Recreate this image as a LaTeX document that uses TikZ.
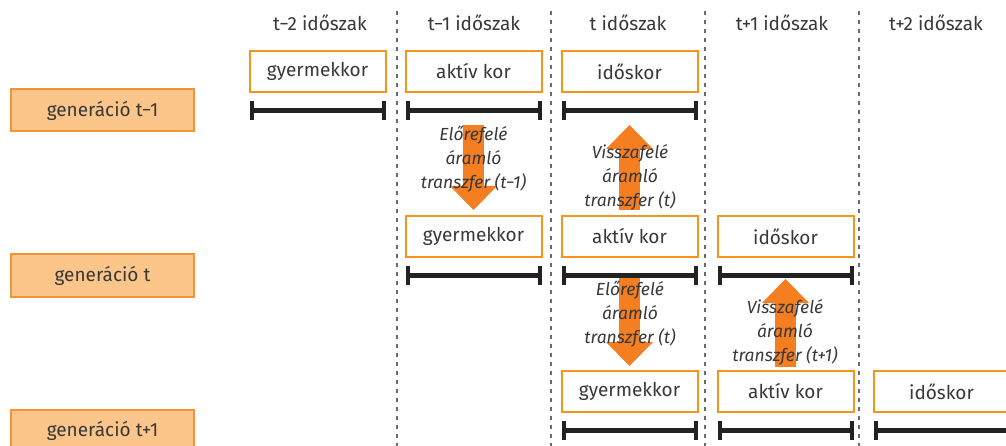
\documentclass[tikz,border=0pt]{standalone}
\usepackage{fontspec}
\setmainfont{Fira Sans}
\usetikzlibrary{arrows.meta, positioning}

\definecolor{boxorange}{HTML}{F7941D}
\definecolor{genfill}{HTML}{FCC68A}
\definecolor{genline}{HTML}{F39237}
\definecolor{arroworange}{HTML}{F47E20}
\definecolor{textgray}{HTML}{383838}
\definecolor{dashgray}{HTML}{6A6A6A}
\definecolor{bargray}{HTML}{222222}

\begin{document}
\begin{tikzpicture}[x=1pt, y=-1pt, node distance=20pt,
    every node/.style={text=textgray, font=\fontsize{19}{23}\selectfont},
    agebox/.style={draw=boxorange, line width=2pt, minimum width=136pt, minimum height=41pt, inner sep=0pt, outer sep=0pt},
    genbox/.style={draw=genline, fill=genfill, line width=2pt, minimum width=183pt, minimum height=42pt, outer sep=0pt},
    timebar/.style={draw=bargray, line width=5pt, {Bar[width=19pt,line width=4pt]}-{Bar[width=19pt,line width=4pt]}},
    transfer/.style={draw=arroworange, line width=21pt, -{Triangle[width=47pt,length=24pt,line width=0pt]}},
    flowtext/.style={align=center, font=\fontsize{17.5}{24}\selectfont\itshape},
    period/.style={draw=dashgray, line width=1.8pt, dash pattern=on 4pt off 5pt}]

    \useasboundingbox (0,0) rectangle (1006,446);

    % Period separators
    \foreach \x in {397,551,705,859}
        \draw[period] (\x,11) -- (\x,446);

    % Nodes
    \node (p1) at (320,23) {t−2 időszak};
    \node (p2) at (474,23) {t−1 időszak};
    \node (p3) at (628,23) {t időszak};
    \node (p4) at (782,23) {t+1 időszak};
    \node (p5) at (936,23) {t+2 időszak};

    \node (gy1) [agebox] at (317.5,71.5) {gyermekkor};
    \node (ak1) [agebox, right=of gy1] {aktív kor};
    \node (id1) [agebox, right=of ak1] {időskor};

    \node (gy2) [agebox, below=124pt of ak1] {gyermekkor};
    \node (ak2) [agebox, right=of gy2] {aktív kor};
    \node (id2) [agebox, right=of ak2] {időskor};

    \node (gy3) [agebox, below=114pt of ak2] {gyermekkor};
    \node (ak3) [agebox, right=of gy3] {aktív kor};
    \node (id3) [agebox, right=of ak3] {időskor};

    \node (gen1) [genbox] at (102.5,110.5) {generáció t−1};
    \node (gen2) [genbox] at (102.5,275.5) {generáció t};
    \node (gen3) [genbox] at (102.5,430.5) {generáció t+1};

    % Time bars
    \foreach \b in {gy1,ak1,id1,gy2,ak2,id2,gy3,ak3,id3}
        \draw[timebar] ([yshift=-18.5pt]\b.south west) -- ([yshift=-18.5pt]\b.south east);

    % Edges
    \draw[transfer, shorten <=33pt, shorten >=6pt] (ak1.south) -- (gy2.north);
    \draw[transfer, shorten <=6pt, shorten >=33pt] (ak2.north) -- (id1.south);
    \draw[transfer, shorten <=21pt, shorten >=5pt] (ak2.south) -- (gy3.north);
    \draw[transfer, shorten <=4pt, shorten >=22pt] (ak3.north) -- (id2.south);

    \node (f1) [flowtext] at (473.5,159) {Előrefelé\\áramló\\transzfer (t−1)};
    \node (f2) [flowtext] at (630,177) {Visszafelé\\áramló\\transzfer (t)};
    \node (f3) [flowtext] at (630,314) {Előrefelé\\áramló\\transzfer (t)};
    \node (f4) [flowtext] at (785,332) {Visszafelé\\áramló\\transzfer (t+1)};
\end{tikzpicture}
\end{document}
